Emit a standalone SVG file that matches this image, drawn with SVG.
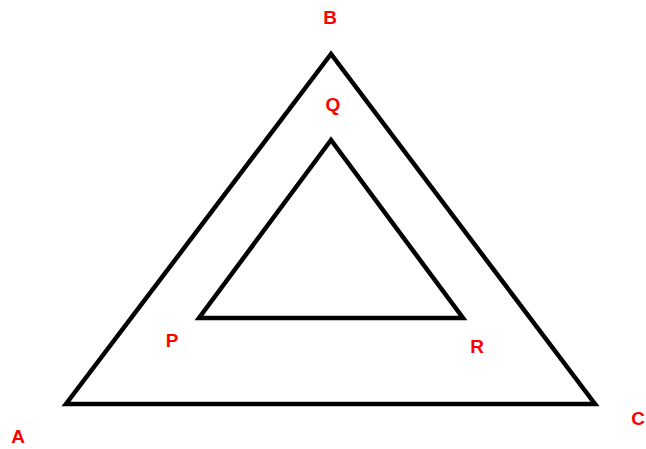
<svg xmlns="http://www.w3.org/2000/svg" width="646" height="449" viewBox="0 0 646 449">
<style>
.tri{fill:none;stroke:#000;stroke-width:4.5;stroke-linejoin:miter}
.lbl{font-family:"Liberation Sans",Arial,sans-serif;font-weight:bold;font-size:19px;fill:#ff0000;text-anchor:middle}
</style>
<rect width="646" height="449" fill="#fff"/>
<g id="connectors">
<polygon id="outer" class="tri" points="331,54 66,404 595,404"/>
<polygon id="inner" class="tri" points="331,140 199,318 463,318"/>
</g>
<g id="B"><text class="lbl" x="330" y="24">B</text></g>
<g id="Q"><text class="lbl" x="333" y="111">Q</text></g>
<g id="P"><text class="lbl" x="172" y="347">P</text></g>
<g id="R"><text class="lbl" x="477" y="353">R</text></g>
<g id="A"><text class="lbl" x="18" y="443">A</text></g>
<g id="C"><text class="lbl" x="638" y="425">C</text></g>
</svg>
